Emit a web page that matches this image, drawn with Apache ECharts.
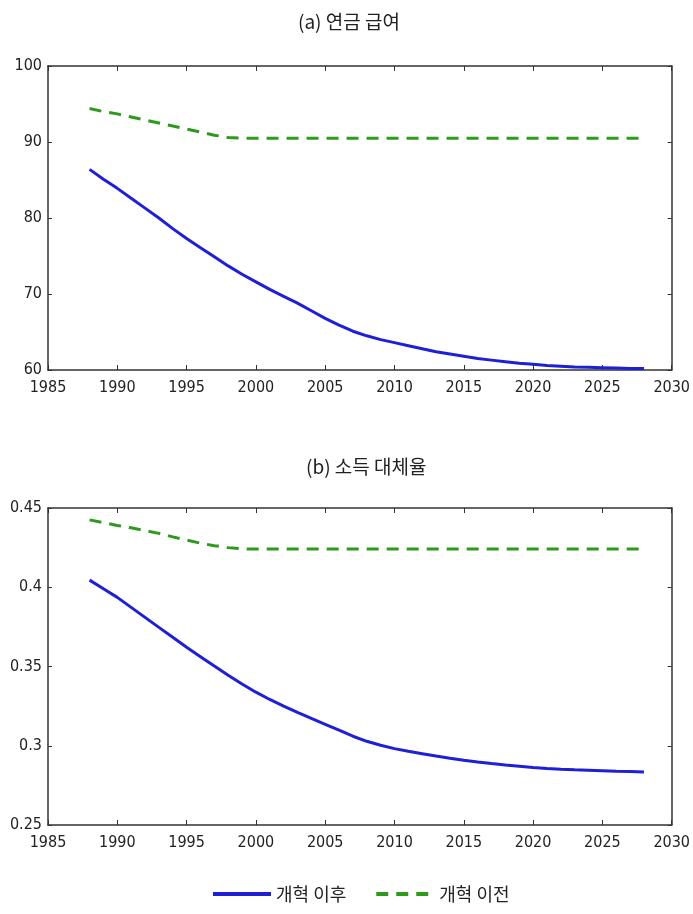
<!DOCTYPE html>
<html><head><meta charset="utf-8">
<script src="https://cdn.jsdelivr.net/npm/echarts@6/dist/echarts.min.js"></script>
<style>html,body{margin:0;padding:0;background:#fff}#c{width:693px;height:914px}</style>
</head><body><div id="c"></div>
<script>
const years = [1988,1989,1990,1991,1992,1993,1994,1995,1996,1997,1998,1999,2000,2001,2002,2003,2004,2005,2006,2007,2008,2009,2010,2011,2012,2013,2014,2015,2016,2017,2018,2019,2020,2021,2022,2023,2024,2025,2026,2027,2028];
const benefitAfter = [86.4,85.1,83.9,82.6,81.3,80.0,78.6,77.3,76.1,74.9,73.7,72.6,71.6,70.6,69.7,68.8,67.8,66.8,65.9,65.1,64.5,64.0,63.6,63.2,62.8,62.4,62.1,61.8,61.5,61.3,61.1,60.9,60.75,60.6,60.5,60.4,60.35,60.3,60.25,60.2,60.2];
const benefitBefore = [94.4,94.0,93.7,93.3,92.9,92.5,92.1,91.7,91.3,90.9,90.6,90.5,90.5,90.5,90.5,90.5,90.5,90.5,90.5,90.5,90.5,90.5,90.5,90.5,90.5,90.5,90.5,90.5,90.5,90.5,90.5,90.5,90.5,90.5,90.5,90.5,90.5,90.5,90.5,90.5,90.5];
const replAfter = [0.4045,0.3990,0.3936,0.3873,0.3810,0.3747,0.3684,0.3621,0.3562,0.3503,0.3445,0.3390,0.3338,0.3292,0.3250,0.3210,0.3172,0.3135,0.3098,0.3060,0.3028,0.3003,0.2982,0.2965,0.2950,0.2935,0.2921,0.2909,0.2898,0.2888,0.2879,0.2871,0.2863,0.2857,0.2852,0.2848,0.2845,0.2842,0.2839,0.2837,0.2835];
const replBefore = [0.4425,0.4408,0.4390,0.4375,0.4358,0.4340,0.4318,0.4298,0.4278,0.4262,0.4250,0.4242,0.4242,0.4242,0.4242,0.4242,0.4242,0.4242,0.4242,0.4242,0.4242,0.4242,0.4242,0.4242,0.4242,0.4242,0.4242,0.4242,0.4242,0.4242,0.4242,0.4242,0.4242,0.4242,0.4242,0.4242,0.4242,0.4242,0.4242,0.4242,0.4242];
const titles = ['(a) 연금 급여','(b) 소득 대체율'];
const seriesNames = ['개혁 이후','개혁 이전'];

const pair = arr => years.map((y,i)=>[y,arr[i]]);
const numFont = "'Liberation Sans Narrow','DejaVu Sans Condensed','Liberation Sans',sans-serif";
const lineC = '#333';
function xAx(gi, pos){
  return {type:'value', gridIndex:gi, position:pos, min:1985, max:2030, interval:5,
    axisLine:{show:true, onZero:false, lineStyle:{color:lineC, width:1.5}},
    axisTick:{show:true, inside:true, length:5, lineStyle:{color:lineC}},
    axisLabel:{show:pos==='bottom', margin:10, color:'#222', fontSize:16, fontFamily:numFont,
      formatter:v=>String(v)},
    splitLine:{show:false}};
}
function yAx(gi, pos, min, max, iv){
  return {type:'value', gridIndex:gi, position:pos, min:min, max:max, interval:iv,
    axisLine:{show:true, onZero:false, lineStyle:{color:lineC, width:1.5}},
    axisTick:{show:true, inside:true, length:4, lineStyle:{color:lineC}},
    axisLabel:{show:pos==='left', margin:6, color:'#222', fontSize:16, fontFamily:numFont,
      formatter:v=>String(parseFloat(v.toFixed(2)))},
    splitLine:{show:false}};
}
const blue = '#1f1fd6', green = '#2e9a1c';
function ln(name, xi, yi, arr, dashed){
  return {name:name, type:'line', xAxisIndex:xi, yAxisIndex:yi, data:pair(arr),
    symbol:'none', showSymbol:false, silent:true, animation:false,
    lineStyle:{color:dashed?green:blue, width:3, type:dashed?[12,8]:'solid'},
    itemStyle:{color:dashed?green:blue}};
}
const chart = echarts.init(document.getElementById('c'), null, {renderer:'canvas'});
chart.setOption({
  backgroundColor:'#fff',
  animation:false,
  title:[
    {text:titles[0], left:293, top:7, textStyle:{fontSize:19, fontWeight:'normal', color:'#222', fontFamily:"'Noto Sans CJK KR',sans-serif"}},
    {text:titles[1], left:301, top:452, textStyle:{fontSize:19, fontWeight:'normal', color:'#222', fontFamily:"'Noto Sans CJK KR',sans-serif"}}
  ],
  grid:[
    {left:48, right:16, top:66, height:304},
    {left:48, right:16, top:508, height:317}
  ],
  xAxis:[xAx(0,'bottom'), xAx(0,'top'), xAx(1,'bottom'), xAx(1,'top')],
  yAxis:[yAx(0,'left',60,100,10), yAx(0,'right',60,100,10), yAx(1,'left',0.25,0.45,0.05), yAx(1,'right',0.25,0.45,0.05)],
  legend:{left:206, top:880, itemWidth:58, itemHeight:14, itemGap:28,
    itemStyle:{opacity:0, borderWidth:0},
    lineStyle:{width:4},
    textStyle:{fontSize:18, color:'#222', fontFamily:"'Noto Sans CJK KR',sans-serif"},
    data:seriesNames},
  series:[
    ln(seriesNames[0],0,0,benefitAfter,false),
    ln(seriesNames[1],0,0,benefitBefore,true),
    ln(seriesNames[0],2,2,replAfter,false),
    ln(seriesNames[1],2,2,replBefore,true)
  ]
});
</script></body></html>
